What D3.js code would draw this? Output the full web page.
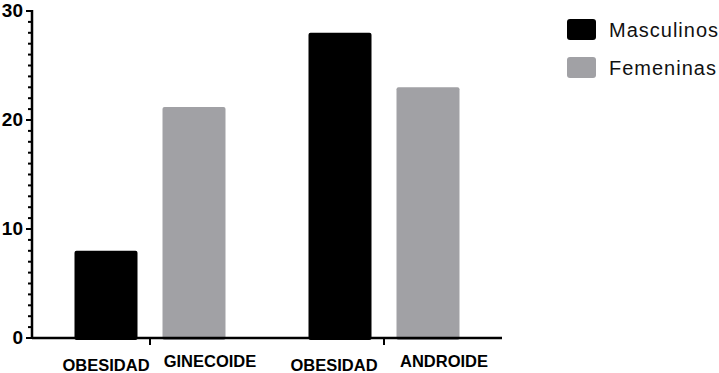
<!DOCTYPE html>
<html lang="en">
  <head>
    <meta charset="utf-8" />
    <title>Obesidad</title>
    <script src="https://cdn.jsdelivr.net/npm/d3@7"></script>
    <style>
      body { margin: 0; background: #fff; }
    </style>
  </head>
  <body>
    <svg id="chart" width="719" height="373"></svg>
    <script>
      // data
      const groups = ["Ginecoide", "Androide"];
      const series = ["Masculinos", "Femeninas"];
      const masculinos = [8, 28];
      const femeninas = [21.2, 23];
      const barLabels = [["OBESIDAD", "GINECOIDE"], ["OBESIDAD", "ANDROIDE"]];
      const colors = ["#000000", "#a1a1a5"];

      const svg = d3.select("#chart").attr("font-family", "'Liberation Sans', Arial, sans-serif");

      const axisX = 32;
      const yScale = d3.scaleLinear().domain([0, 30]).range([338, 11]);
      // group centre (where the x tick sits)
      const xScale = d3.scaleLinear().domain([0, 1]).range([150, 384]);
      const barW = 63, gap = 12.5;

      // bars
      const rows = [];
      groups.forEach((g, i) => {
        rows.push({ g: i, s: 0, v: masculinos[i] });
        rows.push({ g: i, s: 1, v: femeninas[i] });
      });

      svg.append("g")
        .selectAll("rect")
        .data(rows)
        .join("rect")
        .attr("x", d => d.s === 0 ? xScale(d.g) - gap - barW : xScale(d.g) + gap)
        .attr("y", d => yScale(d.v))
        .attr("width", barW)
        .attr("height", d => yScale(0) - yScale(d.v) + 2)
        .attr("rx", 2)
        .attr("fill", d => colors[d.s]);

      // y axis: minor ticks every 1
      const yAxis = svg.append("g").attr("transform", `translate(${axisX},0)`);
      yAxis.selectAll("line.minor")
        .data(d3.range(0, 31))
        .join("line")
        .attr("x1", d => d % 10 === 0 ? -6 : -4)
        .attr("x2", 0)
        .attr("y1", d => yScale(d))
        .attr("y2", d => yScale(d))
        .attr("stroke", "#000")
        .attr("stroke-width", 2);
      yAxis.append("line")
        .attr("x1", 0).attr("x2", 0)
        .attr("y1", yScale(30) - 1).attr("y2", yScale(0) + 1)
        .attr("stroke", "#000").attr("stroke-width", 2.5);
      yAxis.selectAll("text")
        .data(yScale.ticks(3))
        .join("text")
        .attr("x", -9)
        .attr("y", d => yScale(d) - 1)
        .attr("dy", "0.35em")
        .attr("text-anchor", "end")
        .attr("font-weight", "bold")
        .attr("font-size", "19px")
        .text(d => d);

      // x axis
      const xAxis = svg.append("g");
      xAxis.append("line")
        .attr("x1", axisX).attr("x2", 502)
        .attr("y1", yScale(0)).attr("y2", yScale(0))
        .attr("stroke", "#000").attr("stroke-width", 2.5);
      xAxis.selectAll("line.tick")
        .data(groups.map((g, i) => i))
        .join("line")
        .attr("class", "tick")
        .attr("x1", d => xScale(d)).attr("x2", d => xScale(d))
        .attr("y1", yScale(0)).attr("y2", yScale(0) + 7)
        .attr("stroke", "#000").attr("stroke-width", 2);

      const labelRows = [];
      barLabels.forEach((pair, i) => pair.forEach((t, s) => labelRows.push({ g: i, s: s, t: t })));
      xAxis.selectAll("text")
        .data(labelRows)
        .join("text")
        .attr("x", d => d.s === 0 ? xScale(d.g) - gap - barW / 2 - (d.g === 1 ? 6 : 0) : xScale(d.g) + gap + barW / 2 + 16)
        .attr("y", d => d.s === 0 ? 371 : 367)
        .attr("text-anchor", "middle")
        .attr("font-weight", "bold")
        .attr("font-size", "16.5px")
        .text(d => d.t);

      // legend
      const legend = svg.append("g").attr("transform", "translate(567,19)");
      const li = legend.selectAll("g")
        .data(series)
        .join("g")
        .attr("transform", (d, i) => `translate(0,${i * 38})`);
      li.append("rect")
        .attr("width", 29).attr("height", 21).attr("rx", 3)
        .attr("fill", (d, i) => colors[i]);
      li.append("text")
        .attr("x", 42).attr("y", 11)
        .attr("dy", "0.35em")
        .attr("font-size", "20px")
        .attr("letter-spacing", "1px")
        .attr("fill", "#111")
        .text(d => d);
    </script>
  </body>
</html>
